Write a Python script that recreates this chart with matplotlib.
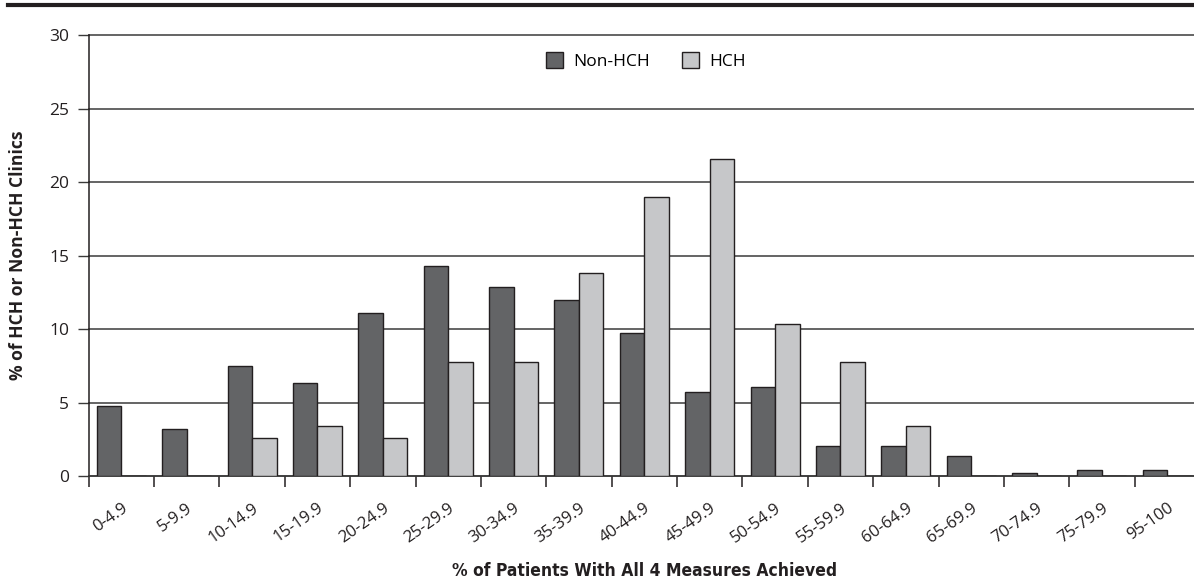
import matplotlib
matplotlib.use("Agg")
import matplotlib.pyplot as plt
from matplotlib.lines import Line2D
import numpy as np

categories = ["0-4.9", "5-9.9", "10-14.9", "15-19.9", "20-24.9", "25-29.9",
              "30-34.9", "35-39.9", "40-44.9", "45-49.9", "50-54.9", "55-59.9",
              "60-64.9", "65-69.9", "70-74.9", "75-79.9", "95-100"]
non_hch = [4.8, 3.2, 7.5, 6.35, 11.1, 14.3, 12.9, 12.0, 9.75, 5.7, 6.1, 2.05,
           2.05, 1.35, 0.25, 0.45, 0.45]
hch = [0, 0, 2.59, 3.45, 2.59, 7.76, 7.76, 13.79, 18.97, 21.55, 10.34, 7.76,
       3.45, 0, 0, 0, 0]
yticks = [0, 5, 10, 15, 20, 25, 30]

DARK = "#636466"
LIGHT = "#c6c7c9"
EDGE = "#231f20"
GRID = "#3a3a3a"
FONT = ["Open Sans", "DejaVu Sans"]

W, H = 1194, 588
fig = plt.figure(figsize=(W / 100, H / 100), dpi=100)
left_px, right_px, top_px, bottom_px = 88.7, 1200.0, 35.0, 476.3
ax = fig.add_axes([left_px / W, 1 - bottom_px / H,
                   (right_px - left_px) / W, (bottom_px - top_px) / H])

x = np.arange(len(categories))
bw = 0.375
ax.bar(x - bw / 2, non_hch, width=bw, color=DARK, edgecolor=EDGE,
       linewidth=1.0, label="Non-HCH", zorder=3)
ax.bar(x + bw / 2, hch, width=bw, color=LIGHT, edgecolor=EDGE,
       linewidth=1.0, label="HCH", zorder=3)

ax.set_xlim(-0.5, len(categories) - 0.5)
ax.set_ylim(0, 30)
ax.set_yticks(yticks)
ax.set_yticklabels([str(t) for t in yticks], fontfamily=FONT, fontsize=12.5,
                   color="#231f20")
for t in yticks:
    ax.axhline(t, color=GRID, linewidth=1.1, zorder=1, clip_on=False)

ax.set_xticks(x)
ax.set_xticklabels(categories, rotation=35, ha="right",
                   rotation_mode="anchor", fontfamily=FONT, fontsize=12,
                   color="#231f20")
ax.tick_params(axis="x", which="major", length=0, pad=17)
ax.set_xticks(np.arange(len(categories) + 1) - 0.5, minor=True)
ax.tick_params(axis="x", which="minor", length=8, width=1.1, color=EDGE,
               direction="out")
ax.tick_params(axis="y", length=8, width=1.0, color=GRID, direction="out",
               pad=6)

for s in ["top", "right"]:
    ax.spines[s].set_visible(False)
ax.spines["left"].set_color(EDGE)
ax.spines["left"].set_linewidth(1.1)
ax.spines["bottom"].set_color(GRID)
ax.spines["bottom"].set_linewidth(1.1)

fig.text(644 / W, 1 - 571 / H, "% of Patients With All 4 Measures Achieved",
         ha="center", va="center", family=["DejaVu Sans"],
         fontstretch="condensed", fontweight="bold", fontsize=12.5,
         color="#231f20")
fig.text(18 / W, 1 - 255 / H, "% of HCH or Non-HCH Clinics", rotation=90,
         ha="center", va="center", family=FONT,
         fontweight="bold", fontsize=12.6, color="#231f20")

leg = fig.legend(loc="center", bbox_to_anchor=(646 / W, 1 - 61 / H), ncol=2,
                 frameon=False, prop={"family": FONT, "size": 12.5},
                 handlelength=1.0, handleheight=1.0, handletextpad=0.6,
                 columnspacing=1.8)

fig.add_artist(Line2D([8 / W, 1], [1 - 5.3 / H, 1 - 5.3 / H],
                      color="#231f20", linewidth=3.0,
                      transform=fig.transFigure))

fig.savefig("out.png", dpi=100)
